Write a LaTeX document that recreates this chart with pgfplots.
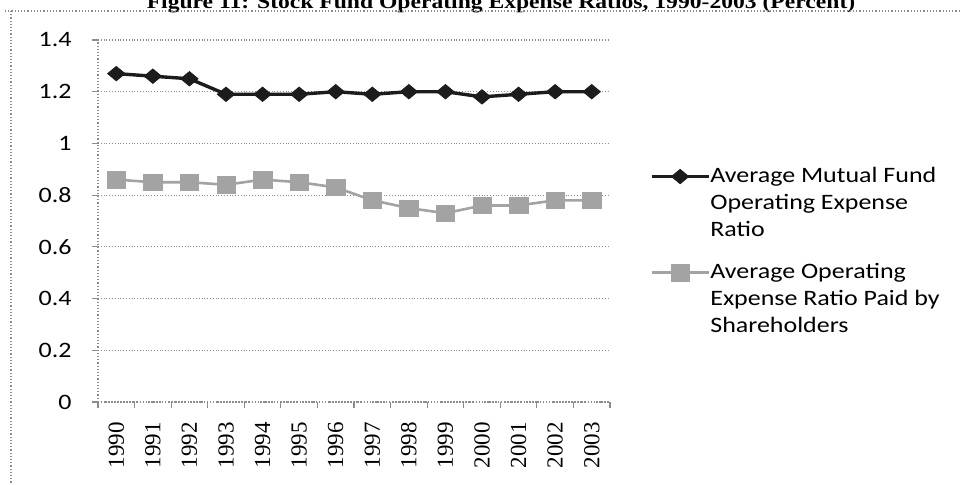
\documentclass[border=0pt]{standalone}
\usepackage{fontspec}
\setmainfont{Carlito}[FakeStretch=1.18]
\newfontfamily\yearfont{Liberation Serif}
\newfontfamily\titlefont{Liberation Serif}[FakeStretch=1.18]
\usepackage{pgfplots}
\pgfplotsset{compat=1.18}
\definecolor{gridgray}{HTML}{8C8C8C}
\definecolor{serA}{HTML}{1C1C1C}
\definecolor{serB}{HTML}{A3A3A3}
\newcommand\lgd[3]{\raisebox{0pt}[\height][0pt]{\vtop{\baselineskip=13.35pt\hbox{#1}\hbox{#2}\hbox{#3}}}}
\begin{document}
\begin{tikzpicture}
\path[use as bounding box] (0,0) rectangle (480pt,242.5pt);
\clip (0,0) rectangle (480pt,242.5pt);
% title (top cut off, as in the reference) and frame
\node[anchor=base, inner sep=0pt, font=\titlefont\bfseries\fontsize{10}{12}\selectfont] at (250.5pt,238.4pt) {Figure 11: Stock Fund Operating Expense Ratios, 1990-2003 (Percent)};
\draw[gridgray, densely dotted, line width=0.6pt] (2.5pt,237pt) -- (480pt,237pt);
\draw[gridgray, densely dotted, line width=0.6pt] (5.5pt,237pt) -- (5.5pt,0pt);
\begin{axis}[
  at={(49pt,41.5pt)}, anchor=south west, scale only axis,
  width=256pt, height=181pt,
  xmin=-0.5, xmax=13.5, ymin=0, ymax=1.4,
  axis x line*=bottom, axis y line*=left,
  axis line style={gridgray, densely dotted, line width=0.6pt},
  xtick={0,1,2,3,4,5,6,7,8,9,10,11,12,13},
  xticklabels={1990,1991,1992,1993,1994,1995,1996,1997,1998,1999,2000,2001,2002,2003},
  major x tick style={draw=none},
  minor xtick={-0.5,0.5,1.5,2.5,3.5,4.5,5.5,6.5,7.5,8.5,9.5,10.5,11.5,12.5,13.5},
  ytick={0,0.2,0.4,0.6,0.8,1,1.2,1.4},
  ymajorgrids,
  grid style={gridgray, densely dotted, line width=0.6pt},
  tick style={gridgray, line width=0.6pt},
  tick align=outside, major tick length=3pt, minor tick length=3pt,
  /pgf/number format/assume math mode=true,
  yticklabel style={font=\fontsize{11}{13}\selectfont, anchor=east, inner sep=0pt, xshift=-10pt},
  xticklabel style={font=\yearfont\fontsize{11.5}{13}\selectfont, rotate=90, anchor=east, inner sep=0pt, xshift=-7pt},
  legend style={at={(1.078,0.648)}, anchor=north west, draw=none, fill=none,
    inner sep=0pt, outer sep=0pt, row sep=39pt,
    font=\fontsize{11}{13.35}\selectfont,
    nodes={inner sep=0pt, outer sep=0pt}},
  legend cell align=left,
  legend image code/.code={\draw[mark repeat=2,mark phase=2,#1] plot coordinates {(0pt,0pt)(14.25pt,0pt)(28.5pt,0pt)};},
]
\addplot[serA, line width=1.7pt, mark=diamond*, mark size=3.6pt, mark options={xscale=1.6, fill=serA, draw=serA, line width=0.4pt}]
  coordinates {(0,1.27)(1,1.26)(2,1.25)(3,1.19)(4,1.19)(5,1.19)(6,1.20)(7,1.19)(8,1.20)(9,1.20)(10,1.18)(11,1.19)(12,1.20)(13,1.20)};
\addlegendentry{\lgd{Average Mutual Fund}{Operating Expense}{Ratio}}
\addplot[serB, line width=1.3pt, mark=square*, mark size=4.1pt, mark options={xscale=1.13, fill=serB, draw=serB, line width=0.2pt}]
  coordinates {(0,0.86)(1,0.85)(2,0.85)(3,0.84)(4,0.86)(5,0.85)(6,0.83)(7,0.78)(8,0.75)(9,0.73)(10,0.76)(11,0.76)(12,0.78)(13,0.78)};
\addlegendentry{\lgd{Average Operating}{Expense Ratio Paid by}{Shareholders}}
\end{axis}
\end{tikzpicture}
\end{document}
